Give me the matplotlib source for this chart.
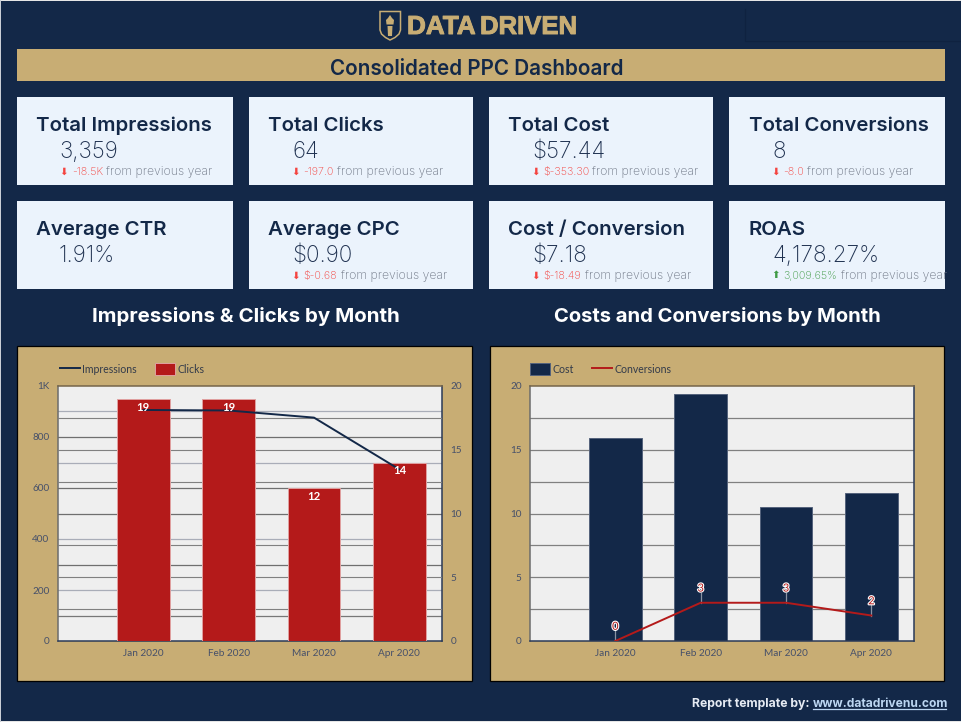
#!/usr/bin/env python3
"""Consolidated PPC dashboard: KPI cards and two monthly combo charts."""

import matplotlib
matplotlib.use("Agg")
import matplotlib.pyplot as plt
import matplotlib.patheffects as pe
from matplotlib.patches import Polygon, Rectangle
import numpy as np

W, H = 961, 722

NAVY = "#132848"
TAN = "#c8ad74"
CARD = "#ebf3fc"
RED = "#b41a1a"
PLOT_BG = "#efefef"
DELTA_RED = "#f4433f"
DELTA_GREEN = "#3f9a45"
GREY_TEXT = "#6f7786"

card_titles = ["Total Impressions", "Total Clicks", "Total Cost", "Total Conversions",
               "Average CTR", "Average CPC", "Cost / Conversion", "ROAS"]
card_values = ["3,359", "64", "$57.44", "8", "1.91%", "$0.90", "$7.18", "4,178.27%"]
card_deltas = ["-18.5K", "-197.0", "$-353.30", "-8.0", "", "$-0.68", "$-18.49", "3,009.65%"]

months = ["Jan 2020", "Feb 2020", "Mar 2020", "Apr 2020"]
impressions = [906, 904, 876, 673]
clicks = [19, 19, 12, 14]
cost = [15.9, 19.4, 10.5, 11.64]
conversions = [0, 3, 3, 2]

# pixel layout of the cards
card_boxes = [(17, 97, 216), (249, 97, 224), (489, 97, 224), (729, 97, 216),
              (17, 201, 216), (249, 201, 224), (489, 201, 224), (729, 201, 216)]
title_x = [36, 268, 508, 749, 36, 268, 508, 749]
value_x = [59, 292, 532, 772, 59, 292, 532, 772]
arrow_x = [64, 296, 536, 776, 64, 296, 536, 776]
delta_x = [72, 303, 543, 783, 72, 303, 543, 783]
rest_x = [106, 337, 592, 807, 106, 341, 585, 841]


def px_axes(fig, left, top, right, bottom):
    return fig.add_axes([left / W, 1 - bottom / H, (right - left) / W, (bottom - top) / H])


def style_plot(ax):
    ax.set_facecolor(PLOT_BG)
    ax.set_xlim(-1, 3.5)
    ax.set_xticks(np.arange(4), months)
    ax.tick_params(axis="both", length=0, labelsize=7.2, labelcolor="#46506a", pad=6)
    ax.spines["top"].set_color("#75654a")
    ax.spines["left"].set_color("#6c6c6c")
    ax.spines["bottom"].set_color("#2a3a58")
    ax.spines["right"].set_color("#2a3a58")
    for spine in ax.spines.values():
        spine.set_linewidth(1.1)


def draw_cards(bg):
    for i, (x, y, w) in enumerate(card_boxes):
        card = Rectangle((x, y), w, 88, facecolor=CARD, edgecolor="none")
        bg.add_patch(card)
        bg.text(title_x[i], y + 34, card_titles[i], fontsize=14.7, fontweight="semibold", color=NAVY,
                family="Inter", va="baseline")
        bg.text(value_x[i], y + 61, card_values[i], fontsize=16.2, fontweight="light", color="#1f3150",
                family="Inter", va="baseline")
        if not card_deltas[i]:
            continue
        up = not card_deltas[i].startswith(("-", "$-"))
        col = DELTA_GREEN if up else DELTA_RED
        bg.text(arrow_x[i], y + 74.5, "⬆" if up else "⬇", fontsize=7.5, color=col, ha="center", va="center",
                family="DejaVu Sans")
        bg.text(delta_x[i], y + 78, card_deltas[i], fontsize=7.7, color=col, family="Inter",
                fontweight="light", va="baseline")
        rest = bg.text(rest_x[i], y + 78, "from previous year", fontsize=8.8, color=GREY_TEXT, family="Inter",
                       fontweight="light", va="baseline")
        rest.set_clip_path(card)


def draw_logo(bg):
    shield = [(380, 11.5), (400.5, 11.5), (400.5, 30), (399, 34), (395, 37.5), (390, 40), (385.5, 37.5),
              (381.5, 34), (380, 30)]
    bg.add_patch(Polygon(shield, closed=True, facecolor="none", edgecolor=TAN, linewidth=1.1))
    bg.add_patch(Polygon([(387.5, 26), (392.5, 26), (392, 36), (388, 36)], closed=True, facecolor=TAN))
    bg.add_patch(Polygon([(386, 20), (388, 18), (390, 15), (392, 18), (394, 20), (393.5, 24.5), (386.5, 24.5)],
                         closed=True, facecolor=TAN))
    heavy = [pe.withStroke(linewidth=0.7, foreground=TAN)]
    bg.text(407, 34, "DATA", fontsize=18.8, fontweight="bold", color=TAN, family="Liberation Sans",
            va="baseline", path_effects=heavy)
    bg.text(480, 34, "DRIVEN", fontsize=18.5, fontweight="bold", color=TAN, family="Liberation Sans",
            va="baseline", path_effects=heavy)


def draw_left_chart(fig):
    ax = px_axes(fig, 58, 386, 442, 641)
    style_plot(ax)
    ax2 = ax.twinx()
    ax.set_ylim(0, 1000)
    ax.set_yticks(np.arange(0, 1001, 200), ["0", "200", "400", "600", "800", "1K"])
    ax2.set_ylim(0, 20)
    ax2.set_yticks(np.arange(0, 21, 5))
    ax2.tick_params(axis="y", length=0, labelsize=7.2, labelcolor="#46506a", pad=6)
    for level, col in zip(range(100, 1000, 100),
                          ["#777777", "#a9adb8", "#6f6f6f", "#a9adb8", "#6f6f6f", "#6f6f6f", "#a9adb8", "#6f6f6f", "#a9adb8"]):
        ax.axhline(level, color=col, linewidth=0.9, zorder=1)
    for level in [2.5, 5, 7.5, 12.5, 15, 17.5]:
        ax2.axhline(level, color="#808080", linewidth=0.8, zorder=1)

    # bars and the line have to sit over both axes' grids
    ax2.set_zorder(ax.get_zorder() + 1)
    ax2.patch.set_visible(False)
    bars = ax2.bar(np.arange(4), clicks, width=0.62, color=RED, edgecolor="#e0a0a0", linewidth=0.7,
                   zorder=2, label="Clicks")
    for i, val in enumerate(clicks):
        ax2.annotate(str(val), (i, val), xytext=(0, -6), textcoords="offset points", ha="center", va="center",
                     color="white", fontsize=8.2, fontweight="bold", family="Lato", zorder=5)
    line_y = np.array(impressions) / 1000 * 20
    line, = ax2.plot(np.arange(4), line_y, color=NAVY, linewidth=1.4, zorder=4, label="Impressions")
    for spine in ax2.spines.values():
        spine.set_visible(False)
    fig.legend([line, bars], ["Impressions", "Clicks"], loc="center left", ncol=2, frameon=False,
               bbox_to_anchor=(50 / W, 1 - 369 / H), labelcolor="#333b4a", handlelength=1.9, handleheight=1.3,
               handletextpad=0.25, columnspacing=1.7, prop={"family": "Lato", "size": 7.6})


def draw_right_chart(fig):
    ax = px_axes(fig, 530, 386, 914, 641)
    style_plot(ax)
    ax.set_ylim(0, 20)
    ax.set_yticks(np.arange(0, 21, 5))
    for level in [2.5, 5, 7.5, 10, 12.5, 15, 17.5]:
        ax.axhline(level, color="#808080", linewidth=0.9, zorder=1)
    bars = ax.bar(np.arange(4), cost, width=0.62, color=NAVY, edgecolor="#54627c", linewidth=0.7, zorder=2,
                  label="Cost")
    line, = ax.plot(np.arange(4), conversions, color=RED, linewidth=1.4, zorder=4, label="Conversions")
    for i, val in enumerate(conversions):
        ax.plot([i, i], [val, val + 0.8], color="#8a93a3", linewidth=0.9, zorder=3)
        ax.annotate(str(val), (i, val), xytext=(0, 10.6), textcoords="offset points", ha="center", va="center",
                    color=RED, fontsize=8, family="Lato", zorder=5,
                    path_effects=[pe.withStroke(linewidth=1.6, foreground="white")])
    fig.legend([bars, line], ["Cost", "Conversions"], loc="center left", ncol=2, frameon=False,
               bbox_to_anchor=(520.5 / W, 1 - 369 / H), labelcolor="#333b4a", handlelength=1.9, handleheight=1.3,
               handletextpad=0.25, columnspacing=1.7, prop={"family": "Lato", "size": 7.6})


def main():
    plt.rcParams["font.family"] = ["Lato", "DejaVu Sans"]
    fig = plt.figure(figsize=(W / 100, H / 100), dpi=100, facecolor=NAVY)

    bg = fig.add_axes([0, 0, 1, 1])
    bg.set_xlim(0, W)
    bg.set_ylim(H, 0)
    bg.axis("off")

    # light edge of the screenshot
    bg.add_patch(Rectangle((0, 0), W, 1, facecolor="#e6e6e6", edgecolor="none"))
    bg.add_patch(Rectangle((0, H - 1), W, 1, facecolor="#e6e6e6", edgecolor="none"))
    bg.add_patch(Rectangle((0, 0), 1, H, facecolor="#c9ced6", edgecolor="none"))

    # faint shadow of a box in the top right corner
    bg.plot([745, 745, W], [9, 41, 41], color="#0f2240", linewidth=0.9)
    bg.add_patch(Rectangle((17, 49), 928, 32, facecolor=TAN, edgecolor="none"))
    bg.text(477, 75, "Consolidated PPC Dashboard", fontsize=14.9, fontweight="semibold", color=NAVY,
            family="Inter", ha="center", va="baseline")
    draw_logo(bg)
    draw_cards(bg)

    bg.text(245.5, 322.5, "Impressions & Clicks by Month", fontsize=14.75, fontweight="bold", color="white",
            family="Inter", ha="center", va="baseline")
    bg.text(717, 322.5, "Costs and Conversions by Month", fontsize=14.55, fontweight="bold", color="white",
            family="Inter", ha="center", va="baseline")

    bg.add_patch(Rectangle((17, 345.5), 455, 335, facecolor=TAN, edgecolor="black", linewidth=0.9))
    bg.add_patch(Rectangle((489.5, 345.5), 454.5, 335, facecolor=TAN, edgecolor="black", linewidth=0.9))

    bg.text(810, 707, "Report template by:", fontsize=8.8, fontweight="bold", color="#e6ebf3", family="Inter",
            ha="right", va="baseline")
    bg.text(813, 707, "www.datadrivenu.com", fontsize=8.65, fontweight="bold", color="#bcd6f2", family="Inter",
            va="baseline")
    bg.plot([813, 946], [709, 709], color="#bcd6f2", linewidth=0.9)

    draw_left_chart(fig)
    draw_right_chart(fig)

    fig.savefig("out.png", dpi=100, facecolor=NAVY)


if __name__ == "__main__":
    main()
